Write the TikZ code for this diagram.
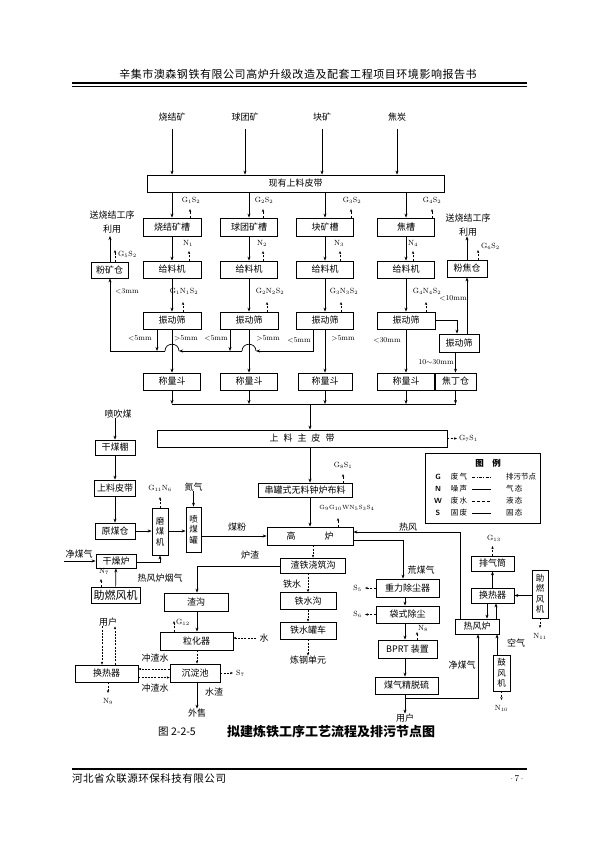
\documentclass[tikz,border=0pt]{standalone}
\usepackage{fontspec}
\newfontfamily\cjk{Noto Sans CJK SC}
\usetikzlibrary{arrows.meta}
\begin{document}
\begin{tikzpicture}[x=1pt,y=-1pt,
  box/.style n args={2}{draw, line width=0.75pt, minimum width=#1, minimum height=#2, inner sep=0pt, font=\cjk\fontsize{9}{10}\selectfont},
  vbox/.style n args={2}{draw, line width=0.75pt, minimum width=#1, minimum height=#2, inner sep=0pt, align=center, font=\cjk\fontsize{8.5}{10.5}\selectfont},
  txt/.style={inner sep=0pt, font=\cjk\fontsize{9}{10}\selectfont},
  stxt/.style={inner sep=0pt, font=\cjk\fontsize{8}{9}\selectfont},
  lgt/.style={inner sep=0pt, font=\cjk\fontsize{7.5}{8}\selectfont},
  lab/.style={inner sep=0pt, font=\fontsize{7.5}{8}\selectfont},
  sm/.style={inner sep=0pt, font=\fontsize{6}{7}\selectfont},
  ln/.style={line width=0.7pt},
  arr/.style={line width=0.7pt, -{Stealth[length=4pt,width=3pt]}},
  darr/.style={line width=0.6pt, dash pattern=on 2pt off 1.2pt, -{Stealth[length=3pt,width=2.4pt]}},
]
\useasboundingbox (0,0) rectangle (595,842);
\fill[white] (0,0) rectangle (595,842);

% ---------- header / footer ----------
\node[inner sep=0pt, font=\cjk\fontsize{11}{12}\selectfont\addfontfeature{LetterSpace=5}] (hdr) at (298,74) {辛集市澳森钢铁有限公司高炉升级改造及配套工程项目环境影响报告书};
\draw[line width=1.1pt] (72,83) -- (527,83);
\draw[line width=0.5pt] (72,86) -- (527,86);
\draw[line width=1.1pt] (72,769) -- (527,769);
\node[anchor=west, inner sep=0pt, font=\cjk\fontsize{10.5}{11}\selectfont\addfontfeature{LetterSpace=5}] (ftl) at (72,779) {河北省众联源环保科技有限公司};
\node[inner sep=0pt, font=\fontsize{9}{10}\selectfont] (ftr) at (517,779) {$\cdot$\,7\,$\cdot$};
\node[anchor=west, inner sep=0pt, font=\cjk\fontsize{10.5}{11}\selectfont] (cap1) at (158,732) {图\ 2-2-5};
\node[anchor=west, inner sep=0pt, font=\cjk\bfseries\fontsize{13}{14}\selectfont] (cap2) at (227,732) {拟建炼铁工序工艺流程及排污节点图};

% ---------- raw materials ----------
\node[txt] (in1) at (172,117) {烧结矿};
\node[txt] (in2) at (245,117) {球团矿};
\node[txt] (in3) at (322,117) {块矿};
\node[txt] (in4) at (397,117) {焦炭};
\node[box={297}{17}] (belt) at (295.5,183.5) {现有上料皮带};
\foreach \i in {1,2,3,4}{\draw[arr] ([yshift=-8pt]in\i.south) -- (in\i |- belt.north);}

\node[box={58}{18}] (k1) at (172,227) {烧结矿槽};
\node[box={57}{18}] (k2) at (249,227) {球团矿槽};
\node[box={57}{18}] (k3) at (325,227) {块矿槽};
\node[box={57}{18}] (k4) at (406,227) {焦槽};
\node[box={58}{17}] (f1) at (172,269.5) {给料机};
\node[box={57}{17}] (f2) at (249,269.5) {给料机};
\node[box={57}{17}] (f3) at (325,269.5) {给料机};
\node[box={57}{17}] (f4) at (406,269.5) {给料机};
\node[box={58}{17}] (s1) at (172,320.5) {振动筛};
\node[box={58}{17}] (s2) at (249,320.5) {振动筛};
\node[box={57}{17}] (s3) at (325,320.5) {振动筛};
\node[box={58}{17}] (s4) at (406,320.5) {振动筛};
\node[box={57}{17}] (w1) at (172,381.5) {称量斗};
\node[box={57}{17}] (w2) at (249,381.5) {称量斗};
\node[box={54}{17}] (w3) at (325,381.5) {称量斗};
\node[box={57}{17}] (w4) at (406,381.5) {称量斗};
\node[box={41}{17}] (jd) at (455.5,381.5) {焦丁仓};
\node[box={40}{18}] (s5) at (459,343) {振动筛};
\node[box={40}{17}] (fj) at (467,268.5) {粉焦仓};
\node[box={37}{16}] (fk) at (109.5,270) {粉矿仓};
\node[txt, align=center, font=\cjk\fontsize{9}{14}\selectfont] (sendL) at (112,222) {送烧结工序\\利用};
\node[txt, align=center, font=\cjk\fontsize{9}{14}\selectfont] (sendR) at (468,225) {送烧结工序\\利用};

\foreach \i in {1,2,3,4}{
  \draw[arr] (belt.south -| k\i) -- (k\i.north);
  \draw[arr] (k\i) -- (f\i);
  \draw[arr] (f\i) -- (s\i);
  \draw[arr] (s\i) -- (w\i);
}
\coordinate (tsl1) at (110,236);
\draw[arr] (fk.north -| tsl1) -- (tsl1);
\draw[arr] (fj.north) -- (fj.north |- sendR.south);

% emission markers, top part
\node[lab] (e1) at (191,200) {G$_1$S$_2$};
\node[lab] (e2) at (264,200) {G$_2$S$_2$};
\node[lab] (e3) at (352,200) {G$_3$S$_2$};
\node[lab] (e4) at (432,200) {G$_4$S$_2$};
\coordinate (t1) at (190,209); \coordinate (t2) at (263,209);
\coordinate (t3) at (351,209); \coordinate (t4) at (432,209);
\foreach \i in {1,2,3,4}{\draw[darr] (k\i.north -| t\i) -- (t\i);}
\node[lab] (n1) at (188,243) {N$_1$};
\node[lab] (n2) at (262,243) {N$_2$};
\node[lab] (n3) at (339,243) {N$_3$};
\node[lab] (n4) at (413,243) {N$_4$};
\coordinate (u1) at (189,251); \coordinate (u2) at (263,251);
\coordinate (u3) at (340,251); \coordinate (u4) at (413,251);
\foreach \i in {1,2,3,4}{\draw[darr] (f\i.north -| u\i) -- (u\i);}
\node[lab] (g1) at (184,291) {G$_1$N$_1$S$_2$};
\node[lab] (g2) at (270,291) {G$_2$N$_2$S$_2$};
\node[lab] (g3) at (344,291) {G$_3$N$_3$S$_2$};
\node[lab] (g4) at (427,291) {G$_4$N$_4$S$_2$};
\coordinate (v1) at (183,302); \coordinate (v2) at (267,302);
\coordinate (v3) at (341,302); \coordinate (v4) at (426,302);
\foreach \i in {1,2,3,4}{\draw[darr] (s\i.north -| v\i) -- (v\i);}
\coordinate (tk) at (115,250);
\draw[darr] (fk.north -| tk) -- (tk);
\node[lab, anchor=west] (ek) at (118,254) {G$_5$S$_2$};
\coordinate (tj) at (478,250);
\draw[darr] (fj.north -| tj) -- (tj);
\node[lab, anchor=west] (ej) at (481,246) {G$_6$S$_2$};

% fines lines
\coordinate (j1) at (157,351);
\coordinate (j2) at (230,351);
\coordinate (j3) at (313,351);
\coordinate (jL) at (110,351);
\coordinate (h2a) at (256,351); \coordinate (h2b) at (242,351);
\coordinate (h1a) at (179,351); \coordinate (h1b) at (165,351);
\draw[arr] (s1.south -| j1) -- (j1);
\draw[arr] (s2.south -| j2) -- (j2);
\draw[arr] (s3.south -| j3) -- (j3) -- (h2a);
\draw[ln] (h2a) .. controls +(0,-9) and +(0,-9) .. (h2b);
\draw[arr] (h2b) -- (h1a);
\draw[ln] (h1a) .. controls +(0,-9) and +(0,-9) .. (h1b);
\draw[arr] (h1b) -- (jL) -- (fk.south -| jL);
\coordinate (c45) at (457,320.5);
\draw[arr] (s4.east) -- (c45) -- (s5.north -| c45);
\draw[arr] (s5.north -| fj) -- (fj.south);
\draw[arr] (s5.south -| jd) -- (jd.north);

\node[lab] (m3) at (127,291) {$<$3mm};
\node[lab] (m1a) at (140,338) {$<$5mm};
\node[lab] (m1b) at (186,338) {$>$5mm};
\node[lab] (m2a) at (216,338) {$<$5mm};
\node[lab] (m2b) at (268,338) {$>$5mm};
\node[lab] (m3a) at (299,340) {$<$5mm};
\node[lab] (m3b) at (343,338) {$>$5mm};
\node[lab] (m4a) at (387,340) {$<$30mm};
\node[lab] (m4b) at (453,298) {$<$10mm};
\node[lab] (m4c) at (436,362) {10$\sim$30mm};

% collector
\coordinate (coll) at (310,404);
\foreach \n in {w1,w2,w3,w4,jd}{\draw[arr] (\n) -- (\n |- coll);}
\draw[ln] (w1 |- coll) -- (jd |- coll);
\node[box={290}{17}] (mb) at (302,438.5) {上\hspace{5pt}料\hspace{5pt}主\hspace{5pt}皮\hspace{5pt}带};
\draw[arr] (coll) -- (coll |- mb.north);
\coordinate (tmb) at (457,438.5);
\draw[darr] (mb.east) -- (tmb);
\node[lab, anchor=west] (emb) at (459,438.5) {G$_7$S$_1$};

% ---------- legend ----------
\node[draw, line width=0.75pt, minimum width=115, minimum height=70, inner sep=0pt] (leg) at (482.5,488) {};
\node[inner sep=0pt, font=\cjk\bfseries\fontsize{8.5}{9}\selectfont] (legT) at (488,463) {图\hspace{1em}例};
\node[inner sep=0pt, font=\sffamily\bfseries\fontsize{7.5}{8}\selectfont] (lG) at (438,477) {G};
\node[inner sep=0pt, font=\sffamily\bfseries\fontsize{7.5}{8}\selectfont] (lN) at (438,489) {N};
\node[inner sep=0pt, font=\sffamily\bfseries\fontsize{7.5}{8}\selectfont] (lW) at (438,501) {W};
\node[inner sep=0pt, font=\sffamily\bfseries\fontsize{7.5}{8}\selectfont] (lS) at (438,513) {S};
\node[lgt] (lG1) at (459,477) {废\,气};
\node[lgt] (lN1) at (459,489) {噪\,声};
\node[lgt] (lW1) at (459,501) {废\,水};
\node[lgt] (lS1) at (459,513) {固\,废};
\draw[line width=0.6pt, dash pattern=on 3pt off 1.5pt on 0.8pt off 1.5pt] (472,477) -- (491,477);
\draw[line width=0.6pt] (472,489) -- (491,489);
\draw[line width=0.6pt, dash pattern=on 3pt off 2pt] (472,501) -- (491,501);
\draw[line width=0.6pt] (472,513) -- (491,513);
\node[lgt, anchor=west] (lG2) at (506,477) {排污节点};
\node[lgt, anchor=west] (lN2) at (506,489) {气\,态};
\node[lgt, anchor=west] (lW2) at (506,501) {液\,态};
\node[lgt, anchor=west] (lS2) at (506,513) {固\,态};

% ---------- coal injection ----------
\node[txt] (pcm) at (118,414) {喷吹煤};
\node[box={40}{15}] (gmp) at (115,447.5) {干煤棚};
\node[box={41}{16}] (slpd) at (115,488) {上料皮带};
\node[box={40}{16}] (ymc) at (115,531) {原煤仓};
\draw[arr] (pcm.south -| gmp) -- (gmp.north);
\draw[arr] (gmp) -- (slpd);
\draw[arr] (slpd) -- (ymc);
\node[vbox={16}{47}] (mmj) at (160,531.5) {磨\\煤\\机};
\node[vbox={15}{45}] (pmg) at (193.5,529.5) {喷\\煤\\罐};
\node[txt] (dq) at (193.5,487) {氮气};
\draw[arr] (dq.south) -- (pmg.north);
\node[lab] (emm) at (160,488) {G$_{11}$N$_6$};
\coordinate (tmm) at (160,497);
\draw[darr] (mmj.north) -- (tmm);
\draw[arr] (ymc.east) -- (mmj.west |- ymc);
\draw[arr] (mmj.east |- ymc) -- (pmg.west |- ymc);

\node[box={94}{14}] (cg) at (305,490) {串罐式无料钟炉布料};
\node[box={86}{18}] (gl) at (310,536) {高\hspace{29pt}炉};
\draw[arr] (mb.south -| coll) -- (cg.north -| coll);
\draw[arr] (cg.south -| coll) -- (gl.north -| coll);
\node[lab] (ecg) at (343,465) {G$_8$S$_1$};
\coordinate (tcg) at (343,474);
\draw[darr] (cg.north -| tcg) -- (tcg);
\node[sm] (egl) at (347,508) {G$_9$G$_{10}$WN$_5$S$_3$S$_4$};
\coordinate (tgl) at (338,518);
\draw[darr] (gl.north -| tgl) -- (tgl);
\draw[arr] (pmg.east |- gl) -- (gl.west);
\node[txt] (mf) at (237,527) {煤粉};

\node[box={40}{14}] (gzl) at (116,561) {干燥炉};
\node[txt] (jmq1) at (79,554) {净煤气};
\coordinate (jq0) at (64,561);
\draw[arr] (jq0) -- (gzl.west);
\coordinate (gz1) at (160,562);
\draw[arr] (gzl.east |- gz1) -- (gz1) -- (mmj.south);
\node[txt] (rfyq) at (160,578) {热风炉烟气};
\node[box={49}{16}, font=\cjk\fontsize{11}{12}\selectfont] (zrl) at (115.5,595) {助燃风机};
\draw[arr] (zrl) -- (gzl);
\node[lab] (ezr) at (104,571) {N$_7$};
\coordinate (tzr) at (101,579);
\draw[darr] (zrl.north -| tzr) -- (tzr);

% ---------- slag / iron ----------
\node[box={65}{15}] (zt) at (313,565.5) {渣铁浇筑沟};
\node[box={56}{17}] (ts) at (308,601) {铁水沟};
\node[box={56}{17}] (tc) at (308,630.5) {铁水罐车};
\node[txt] (lg) at (308,660) {炼钢单元};
\draw[darr] (gl.south -| zt) -- (zt.north);
\draw[darr] (zt.south -| ts) -- (ts.north);
\draw[darr] (ts) -- (tc);
\draw[darr] (tc) -- (lg);
\node[txt] (tsl) at (292,584) {铁水};
\node[txt] (lzl) at (250,555) {炉渣};
\node[box={64}{18}] (zg) at (196,602) {渣沟};
\node[box={73}{18}] (lh) at (196.5,641) {粒化器};
\node[box={50}{18}] (cd) at (195,673) {沉淀池};
\coordinate (lz1) at (197,566);
\draw[arr] (zt.west |- lz1) -- (lz1) -- (zg.north -| lz1);
\draw[arr] (zg.south -| lz1) -- (lh.north -| lz1);
\draw[darr] (lh.south -| lz1) -- (cd.north -| lz1);
\node[lab] (elh) at (183,622) {G$_{12}$};
\coordinate (tlh) at (174,621);
\draw[darr] (lh.north -| tlh) -- (tlh);
\node[txt] (shui) at (264,638) {水};
\coordinate (sh0) at (256,638);
\draw[darr] (sh0) -- (lh.east |- sh0);
\coordinate (tcd) at (233,673);
\draw[darr] (cd.east) -- (tcd);
\node[lab, anchor=west] (ecd) at (236,673) {S$_7$};
\node[txt] (ws) at (197,713) {外售};
\draw[arr] (cd.south -| lz1) -- (ws.north -| lz1);
\node[txt] (szl) at (214,692) {水渣};
\node[box={63}{17}] (hx1) at (106.5,673.5) {换热器};
\path ([yshift=4pt]cd.west) coordinate (cz1);
\draw[darr] (cz1) -- (cz1 -| hx1.east);
\path ([yshift=-4pt]hx1.east) coordinate (cz2);
\draw[darr] (cz2) -- (cz2 -| cd.west);
\node[txt] (czs1) at (155,658) {冲渣水};
\node[txt] (czs2) at (155,688) {冲渣水};
\node[txt] (yh1) at (108,622) {用户};
\path ([xshift=-6pt]yh1.south) coordinate (ya);
\path ([xshift=7pt]yh1.south) coordinate (yb);
\draw[darr] (ya) -- (ya |- hx1.north);
\draw[darr] (yb |- hx1.north) -- (yb);
\coordinate (thx) at (108,693);
\draw[darr] (hx1.south -| thx) -- (thx);
\node[lab] (ehx) at (108,701) {N$_9$};

% ---------- gas cleaning ----------
\node[box={63}{18}] (zl) at (407.5,588) {重力除尘器};
\node[box={63}{17}] (dc) at (407.5,614.5) {袋式除尘};
\node[box={59}{18}] (bp) at (407.5,649) {BPRT 装置};
\node[box={63}{17}] (js) at (406.5,685.5) {煤气精脱硫};
\coordinate (hm1) at (403,540);
\draw[arr] (gl.east |- hm1) -- (hm1) -- (zl.north -| hm1);
\node[txt] (hmq) at (421,570) {荒煤气};
\coordinate (cx) at (405,600);
\draw[arr] (zl.south -| cx) -- (dc.north -| cx);
\draw[arr] (dc.south -| cx) -- (bp.north -| cx);
\draw[arr] (bp.south -| cx) -- (js.north -| cx);
\coordinate (tzl) at (365,588);
\draw[darr] (zl.west) -- (tzl);
\node[lab, anchor=east] (ezl) at (362,588) {S$_5$};
\coordinate (tdc) at (365,614.5);
\draw[darr] (dc.west) -- (tdc);
\node[lab, anchor=east] (edc) at (362,614.5) {S$_6$};
\coordinate (tbp) at (417,632);
\draw[darr] (bp.north -| tbp) -- (tbp);
\node[lab, anchor=west] (ebp) at (418,628) {N$_8$};
\node[txt] (yh2) at (405,718) {用户};
\draw[arr] (js.south -| cx) -- (yh2.north -| cx);

% ---------- hot blast stove ----------
\node[box={44}{15}] (rf) at (477,626.5) {热风炉};
\node[box={43}{15}] (hx2) at (492.5,595.5) {换热器};
\node[box={43}{15}] (pq) at (492.5,563.5) {排气筒};
\node[vbox={16}{48}] (zr) at (540,594) {助\\燃\\风\\机};
\node[vbox={17}{36}] (gf) at (501.5,673) {鼓\\风\\机};
\coordinate (hf1) at (460,532);
\draw[arr] (rf.north -| hf1) -- (hf1) -- (gl.east |- hf1);
\node[txt] (rfl) at (408,527) {热风};
\coordinate (jm1) at (405,698); \coordinate (jm2) at (478,698);
\draw[arr] (jm1) -- (jm2) -- (rf.south -| jm2);
\node[txt] (jmq2) at (462,665) {净煤气};
\coordinate (xg) at (497,650);
\draw[arr] (gf.north -| xg) -- (rf.south -| xg);
\node[txt] (kq) at (516,643) {空气};
\coordinate (xa) at (487,611); \coordinate (xb) at (496,611);
\draw[arr] (hx2.south -| xa) -- (rf.north -| xa);
\draw[arr] (rf.north -| xb) -- (hx2.south -| xb);
\draw[arr] (hx2) -- (pq);
\draw[arr] (zr.west |- hx2) -- (hx2.east);
\coordinate (tpq) at (492.5,546);
\draw[darr] (pq.north) -- (tpq);
\node[lab] (epq) at (494,538) {G$_{13}$};
\coordinate (tzr2) at (540,628);
\draw[darr] (zr.south) -- (tzr2);
\node[lab] (ezr2) at (540,636) {N$_{11}$};
\coordinate (tgf) at (501.5,700);
\draw[darr] (gf.south) -- (tgf);
\node[lab] (egf) at (501.5,708) {N$_{10}$};
\end{tikzpicture}
\end{document}
